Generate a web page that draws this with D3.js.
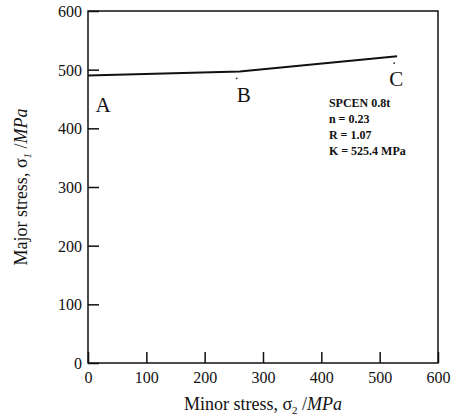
<!DOCTYPE html>
<html>
<head>
<meta charset="utf-8">
<script src="https://cdn.jsdelivr.net/npm/d3@7"></script>
<style>
  body { margin: 0; background: #fff; }
  svg text { font-family: "Liberation Serif", "Times New Roman", Times, "DejaVu Serif", serif !important; fill: #111; }
</style>
</head>
<body>
<div id="chart"></div>
<script>
// yield locus points (minor stress, major stress)
var minorStress = [0, 260, 530]
var majorStress = [490, 497, 523]
var pointLabels = ["A", "B", "C"]
var xTicks = [0, 100, 200, 300, 400, 500, 600]
var yTicks = [0, 100, 200, 300, 400, 500, 600]
var noteLines = ["SPCEN 0.8t", "n = 0.23", "R = 1.07", "K = 525.4 MPa"]

var svgWidth = 456
var svgHeight = 419

var margin = {top: 11, right: 18, bottom: 56, left: 88}
var width = svgWidth - margin.left - margin.right
var height = svgHeight - margin.top - margin.bottom

var svg = d3.select("#chart")
  .append("svg")
  .attr("width", svgWidth)
  .attr("height", svgHeight)

var g = svg.append("g")
  .attr("transform", `translate(${margin.left}, ${margin.top})`)

var xScale = d3.scaleLinear().domain([0, 600]).range([0, width])
var yScale = d3.scaleLinear().domain([0, 600]).range([height, 0])

// frame
g.append("rect")
  .attr("width", width)
  .attr("height", height)
  .attr("fill", "none")
  .attr("stroke", "#111")
  .attr("stroke-width", 1.5)

// axes with inward ticks
var bottomAxis = d3.axisBottom(xScale).tickValues(xTicks).tickSize(-11).tickPadding(9)
var leftAxis = d3.axisLeft(yScale).tickValues(yTicks).tickSize(-11).tickPadding(6)

var xg = g.append("g")
  .attr("transform", `translate(0, ${height})`)
  .call(bottomAxis)
var yg = g.append("g").call(leftAxis)

;[xg, yg].forEach(function(a) {
  a.attr("font-family", null).attr("font-size", null)
  a.select(".domain").remove()
  a.selectAll("line").attr("stroke", "#111").attr("stroke-width", 1.5)
  a.selectAll("text")
    .style("font-size", "16px")
    .attr("fill", "#111")
})
yg.selectAll("text").attr("dy", "0.35em")

// the locus line
var line = d3.line()
  .x(function(d, i) { return xScale(minorStress[i]) })
  .y(function(d, i) { return yScale(majorStress[i]) })

g.append("path")
  .datum(minorStress)
  .attr("d", line)
  .attr("fill", "none")
  .attr("stroke", "#111")
  .attr("stroke-width", 2)

// small marks under B and C
g.selectAll(".mark")
  .data(minorStress.slice(1))
  .enter()
  .append("circle")
  .attr("cx", function(d) { return xScale(d) - 3 })
  .attr("cy", function(d, i) { return yScale(majorStress[i + 1]) + 7 })
  .attr("r", 0.9)
  .attr("fill", "#333")

// point labels
var labelOffsets = [[15, 36], [4, 31], [-1, 30]]
g.selectAll(".plabel")
  .data(pointLabels)
  .enter()
  .append("text")
  .text(function(d) { return d })
  .attr("x", function(d, i) { return xScale(minorStress[i]) + labelOffsets[i][0] })
  .attr("y", function(d, i) { return yScale(majorStress[i]) + labelOffsets[i][1] })
  .style("text-anchor", "middle")
  .style("font-size", "21px")

// material note
g.selectAll(".note")
  .data(noteLines)
  .enter()
  .append("text")
  .text(function(d) { return d })
  .attr("x", xScale(413))
  .attr("y", function(d, i) { return yScale(436) + i * 16 })
  .style("font-size", "12px")
  .style("font-weight", "bold")

// axis titles
var xt = svg.append("text")
  .attr("x", margin.left + width / 2)
  .attr("y", 410)
  .style("text-anchor", "middle")
  .style("font-size", "18px")
xt.append("tspan").text("Minor stress, σ")
xt.append("tspan").text("2").attr("dy", 4).style("font-size", "11px")
xt.append("tspan").text(" /").attr("dy", -4)
xt.append("tspan").text("MPa").style("font-style", "italic")

var yt = svg.append("text")
  .attr("transform", `translate(27, ${margin.top + height / 2}) rotate(-90)`)
  .style("text-anchor", "middle")
  .style("font-size", "18px")
yt.append("tspan").text("Major stress, σ")
yt.append("tspan").text("1").attr("dy", 4).style("font-size", "11px").style("font-style", "italic")
yt.append("tspan").text(" /").attr("dy", -4)
yt.append("tspan").text("MPa").style("font-style", "italic")
</script>
</body>
</html>
